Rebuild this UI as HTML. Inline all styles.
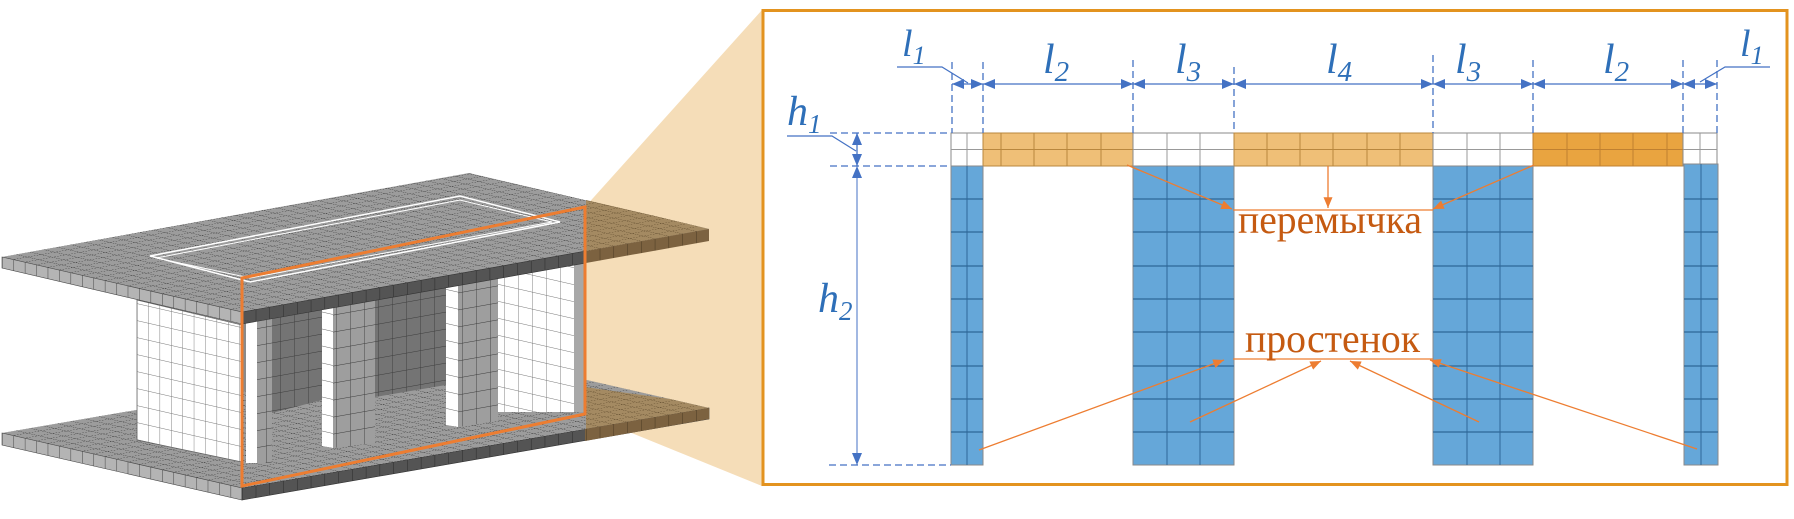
<!DOCTYPE html>
<html><head><meta charset="utf-8">
<style>
html,body{margin:0;padding:0;background:#fff;}
svg{display:block;}
text{font-family:"Liberation Serif",serif;}
</style></head>
<body>
<svg width="1794" height="519" viewBox="0 0 1794 519" xmlns="http://www.w3.org/2000/svg">
<defs>
  <pattern id="gTop" width="1" height="1" patternUnits="userSpaceOnUse" patternTransform="matrix(13.76 -2.44 -11.43 -2.62 242 312)">
    <rect width="1" height="1" fill="#9c9c9c"/>
    <path d="M0 0H1M0 0V1" stroke="#3a3a3a" stroke-width="0.09" fill="none"/>
  </pattern>
  <pattern id="gTopB" width="1" height="1" patternUnits="userSpaceOnUse" patternTransform="matrix(13.76 -2.35 -11.43 -2.62 242 488)">
    <rect width="1" height="1" fill="#9c9c9c"/>
    <path d="M0 0H1M0 0V1" stroke="#3a3a3a" stroke-width="0.09" fill="none"/>
  </pattern>
  <pattern id="gSideL" width="11.43" height="40" patternUnits="userSpaceOnUse" patternTransform="matrix(1 0.229 0 1 2 0)">
    <rect width="11.43" height="40" fill="#b4b4b4"/>
    <path d="M0 0V40" stroke="#444" stroke-width="1" />
  </pattern>
  <pattern id="gFront" width="13.76" height="40" patternUnits="userSpaceOnUse" patternTransform="matrix(1 -0.1775 0 1 242 0)">
    <rect width="13.76" height="40" fill="#545454"/>
    <path d="M0 0V40" stroke="#2a2a2a" stroke-width="1"/>
  </pattern>
  <pattern id="gWhite" width="11.4" height="17" patternUnits="userSpaceOnUse" patternTransform="matrix(1 0.229 0 1 0 0)">
    <rect width="11.4" height="17" fill="#fff"/>
    <path d="M0 0V17M0 0H11.4" stroke="#777" stroke-width="0.9"/>
  </pattern>
  <pattern id="gWhiteR" width="14" height="17" patternUnits="userSpaceOnUse" patternTransform="matrix(1 0.229 0 1 0 0)">
    <rect width="14" height="17" fill="#fff"/>
    <path d="M0 0V17M0 0H14" stroke="#777" stroke-width="0.9"/>
  </pattern>
  <pattern id="gDark" width="14" height="17" patternUnits="userSpaceOnUse" patternTransform="matrix(1 -0.1775 0 1 0 0)">
    <rect width="14" height="17" fill="#747474"/>
    <path d="M0 0V17M0 0H14" stroke="#3c3c3c" stroke-width="0.9"/>
  </pattern>
  <pattern id="gCol" width="14" height="17" patternUnits="userSpaceOnUse" patternTransform="matrix(1 -0.1775 0 1 0 0)">
    <rect width="14" height="17" fill="#9e9e9e"/>
    <path d="M0 0V17M0 0H14" stroke="#3c3c3c" stroke-width="0.9"/>
  </pattern>
  <pattern id="gColW" width="14" height="17" patternUnits="userSpaceOnUse" patternTransform="matrix(1 0.229 0 1 0 0)">
    <rect width="14" height="17" fill="#fff"/>
    <path d="M0 0H14" stroke="#555" stroke-width="0.9"/>
  </pattern>
  <pattern id="gBrownTop" width="1" height="1" patternUnits="userSpaceOnUse" patternTransform="matrix(13.76 -2.44 -11.43 -2.62 242 312)">
    <rect width="1" height="1" fill="#a48a62"/>
    <path d="M0 0H1M0 0V1" stroke="#5e4a2c" stroke-width="0.09" fill="none"/>
  </pattern>
  <pattern id="gBrownTopB" width="1" height="1" patternUnits="userSpaceOnUse" patternTransform="matrix(13.76 -2.35 -11.43 -2.62 242 488)">
    <rect width="1" height="1" fill="#a48a62"/>
    <path d="M0 0H1M0 0V1" stroke="#5e4a2c" stroke-width="0.09" fill="none"/>
  </pattern>
  <pattern id="gBrownF" width="13.76" height="40" patternUnits="userSpaceOnUse" patternTransform="matrix(1 -0.1775 0 1 242 0)">
    <rect width="13.76" height="40" fill="#7c6240"/>
    <path d="M0 0V40" stroke="#4a3a22" stroke-width="1"/>
  </pattern>
  <clipPath id="inner">
    <polygon points="242,322 586,261 586,429 242,488"/>
  </clipPath>
  <marker id="ab" viewBox="0 0 12 10" refX="12" refY="5" markerWidth="12" markerHeight="10" markerUnits="userSpaceOnUse" orient="auto-start-reverse">
    <path d="M0 0L12 5L0 10Z" fill="#4472C4"/>
  </marker>
  <marker id="ao" viewBox="0 0 12 10" refX="12" refY="5" markerWidth="11" markerHeight="9" markerUnits="userSpaceOnUse" orient="auto">
    <path d="M0 0L12 5L0 10Z" fill="#ED7D31"/>
  </marker>
</defs>

<!-- beige projection -->
<polygon points="585,207 762,10 762,486 585,414" fill="#F5DDB8"/>

<!-- bottom slab -->
<polygon points="2,433 469,353 709,408 242,488" fill="url(#gTopB)"/>
<polygon points="2,433 242,488 242,500 2,445" fill="url(#gSideL)" stroke="#444" stroke-width="0.6"/>
<polygon points="242,488 709,408 709,419 242,500" fill="url(#gFront)" stroke="#333" stroke-width="0.6"/>
<polygon points="585,429 709,408 670,399 585,387" fill="url(#gBrownTopB)"/>
<polygon points="585,429 709,408 709,419 585,441" fill="url(#gBrownF)"/>

<!-- walls between slabs -->
<polygon points="137,300 242,325 242,462 137,440" fill="url(#gWhite)" stroke="#666" stroke-width="0.8"/>
<g clip-path="url(#inner)">
  <polygon points="242,300 586,240 586,400 242,460" fill="#8a8a8a"/>
  <polygon points="2,433 469,353 709,408 242,488" fill="url(#gTopB)"/>
  <polygon points="272,317 322,308 322,400 272,413" fill="url(#gDark)"/>
  <polygon points="375,298 446,286 446,385 375,397" fill="url(#gDark)"/>
  <polygon points="246,300 257,300 257,463 246,463" fill="#fff"/>
  <polygon points="257,300 272,300 272,463 257,463" fill="url(#gCol)"/>
  <polygon points="322,296 333,296 333,448 322,446" fill="url(#gColW)"/>
  <polygon points="333,296 375,290 375,443 333,448" fill="url(#gCol)"/>
  <polygon points="446,280 458,280 458,427 446,425" fill="url(#gColW)"/>
  <polygon points="458,280 498,275 498,421 458,427" fill="url(#gCol)"/>
  <polygon points="498,260 583,260 583,412 498,412" fill="url(#gWhiteR)"/>
  <rect x="574" y="260" width="12" height="152" fill="#a8a8a8"/>
</g>

<!-- top slab -->
<polygon points="2,257 469,173 709,229 242,312" fill="url(#gTop)"/>
<polygon points="586,251 709,229 655,216 586,200" fill="url(#gBrownTop)"/>
<polygon points="2,257 242,312 242,324 2,268" fill="url(#gSideL)" stroke="#444" stroke-width="0.6"/>
<polygon points="242,312 586,251 586,263 242,324" fill="url(#gFront)" stroke="#333" stroke-width="0.6"/>
<polygon points="586,251 709,229 709,241 586,263" fill="url(#gBrownF)"/>
<polygon points="150,256 460,196 560,222 250,282" fill="none" stroke="#fff" stroke-width="1.5"/>
<polygon points="156,258 460,200 552,222 250,278" fill="none" stroke="#fff" stroke-width="1"/>

<!-- orange section rectangle -->
<polygon points="242,278 585,207 585,414 242,486" fill="none" stroke="#ED7D31" stroke-width="3"/>

<!-- right panel -->
<rect x="763" y="10.5" width="1024" height="474" fill="#fff" stroke="#E3931F" stroke-width="3"/>

<!-- beam -->
<g stroke-width="1">
  <rect x="951" y="133" width="32" height="33" fill="#fff" stroke="#888"/>
  <rect x="983" y="133" width="150" height="33" fill="#EFBF77" stroke="#B9873E"/>
  <rect x="1133" y="133" width="101" height="33" fill="#fff" stroke="#888"/>
  <rect x="1234" y="133" width="199" height="33" fill="#EFBF77" stroke="#B9873E"/>
  <rect x="1433" y="133" width="100" height="33" fill="#fff" stroke="#888"/>
  <rect x="1533" y="133" width="150" height="33" fill="#E9A440" stroke="#C08030"/>
  <rect x="1683" y="133" width="34" height="33" fill="#fff" stroke="#888"/>
  <path d="M951 149.5H1717" stroke="#999"/>
  <path d="M983 149.5H1133M1234 149.5H1433" stroke="#B9873E"/>
  <path d="M1533 149.5H1683" stroke="#C08030"/>
  <path d="M967 133V166M1167 133V166M1200 133V166M1467 133V166M1500 133V166M1700 133V166" stroke="#999"/>
  <path d="M1001 133V166M1034 133V166M1067 133V166M1101 133V166M1267 133V166M1300 133V166M1333 133V166M1367 133V166M1400 133V166" stroke="#B9873E"/>
  <path d="M1567 133V166M1600 133V166M1633 133V166M1667 133V166" stroke="#C08030"/>
</g>

<!-- columns -->
<g fill="#65A7D9" stroke="#8a8a8a" stroke-width="1">
  <rect x="951" y="166" width="32" height="299"/>
  <rect x="1133" y="166" width="101" height="299"/>
  <rect x="1433" y="166" width="100" height="299"/>
  <rect x="1684" y="164" width="34" height="301"/>
</g>
<g stroke="#2F6799" stroke-width="1.2">
  <path d="M967 166V465M1167 166V465M1200 166V465M1467 166V465M1500 166V465M1701 164V465" stroke-width="1"/>
  <path d="M951 199H983M951 232H983M951 266H983M951 299H983M951 332H983M951 366H983M951 399H983M951 432H983"/>
  <path d="M1133 199H1234M1133 232H1234M1133 266H1234M1133 299H1234M1133 332H1234M1133 366H1234M1133 399H1234M1133 432H1234"/>
  <path d="M1433 199H1533M1433 232H1533M1433 266H1533M1433 299H1533M1433 332H1533M1433 366H1533M1433 399H1533M1433 432H1533"/>
  <path d="M1684 199H1718M1684 232H1718M1684 266H1718M1684 299H1718M1684 332H1718M1684 366H1718M1684 399H1718M1684 432H1718"/>
</g>

<!-- dimension lines -->
<g stroke="#4472C4" stroke-width="1.3" fill="none">
  <path d="M952 62V133M983 62V133M1133 60V133M1234 67V133M1433 55V133M1533 60V133M1683 60V133M1717 60V133" stroke-dasharray="7,4"/>
  <line x1="952" y1="84" x2="983" y2="84" marker-start="url(#ab)" marker-end="url(#ab)"/>
  <line x1="983" y1="84" x2="1133" y2="84" marker-start="url(#ab)" marker-end="url(#ab)"/>
  <line x1="1133" y1="84" x2="1234" y2="84" marker-start="url(#ab)" marker-end="url(#ab)"/>
  <line x1="1234" y1="84" x2="1433" y2="84" marker-start="url(#ab)" marker-end="url(#ab)"/>
  <line x1="1433" y1="84" x2="1533" y2="84" marker-start="url(#ab)" marker-end="url(#ab)"/>
  <line x1="1533" y1="84" x2="1683" y2="84" marker-start="url(#ab)" marker-end="url(#ab)"/>
  <line x1="1683" y1="84" x2="1717" y2="84" marker-start="url(#ab)" marker-end="url(#ab)"/>
  <path d="M830 133H951M830 166H951M829 465H951" stroke-dasharray="7,4"/>
  <line x1="857" y1="133" x2="857" y2="166" marker-start="url(#ab)" marker-end="url(#ab)"/>
  <line x1="857" y1="166" x2="857" y2="465" marker-start="url(#ab)" marker-end="url(#ab)" stroke-width="1"/>
  <path d="M897 67H942L968 83" stroke-width="1.2"/>
  <path d="M1770 67H1725L1700 82" stroke-width="1.2"/>
  <path d="M787 136H832L856 151" stroke-width="1.2"/>
</g>

<!-- labels -->
<g fill="#2E6FB8" font-style="italic">
  <text x="902" y="56" font-size="38">l<tspan font-size="26" dy="8">1</tspan></text>
  <text x="1043" y="73" font-size="42">l<tspan font-size="29" dy="8">2</tspan></text>
  <text x="1175" y="73" font-size="42">l<tspan font-size="29" dy="8">3</tspan></text>
  <text x="1326" y="73" font-size="42">l<tspan font-size="29" dy="8">4</tspan></text>
  <text x="1455" y="73" font-size="42">l<tspan font-size="29" dy="8">3</tspan></text>
  <text x="1603" y="73" font-size="42">l<tspan font-size="29" dy="8">2</tspan></text>
  <text x="1740" y="56" font-size="38">l<tspan font-size="26" dy="8">1</tspan></text>
  <text x="787" y="125" font-size="42">h<tspan font-size="27" dy="8">1</tspan></text>
  <text x="818" y="312" font-size="42">h<tspan font-size="27" dy="8">2</tspan></text>
</g>

<!-- annotations -->
<g stroke="#ED7D31" stroke-width="1.3" fill="none">
  <path d="M1233 210H1433"/>
  <line x1="1127" y1="165" x2="1232" y2="209" marker-end="url(#ao)"/>
  <line x1="1328" y1="166" x2="1328" y2="208" marker-end="url(#ao)"/>
  <line x1="1534" y1="165" x2="1433" y2="209" marker-end="url(#ao)"/>
  <path d="M1233 359H1433"/>
  <line x1="979" y1="450" x2="1224" y2="360" marker-end="url(#ao)"/>
  <line x1="1190" y1="422" x2="1321" y2="361" marker-end="url(#ao)"/>
  <line x1="1479" y1="422" x2="1350" y2="361" marker-end="url(#ao)"/>
  <line x1="1697" y1="449" x2="1430" y2="360" marker-end="url(#ao)"/>
</g>
<g fill="#C55A11" font-size="40">
  <text x="1238" y="233" textLength="184" lengthAdjust="spacingAndGlyphs">перемычка</text>
  <text x="1245" y="352" textLength="175" lengthAdjust="spacingAndGlyphs">простенок</text>
</g>
</svg>
</body></html>
